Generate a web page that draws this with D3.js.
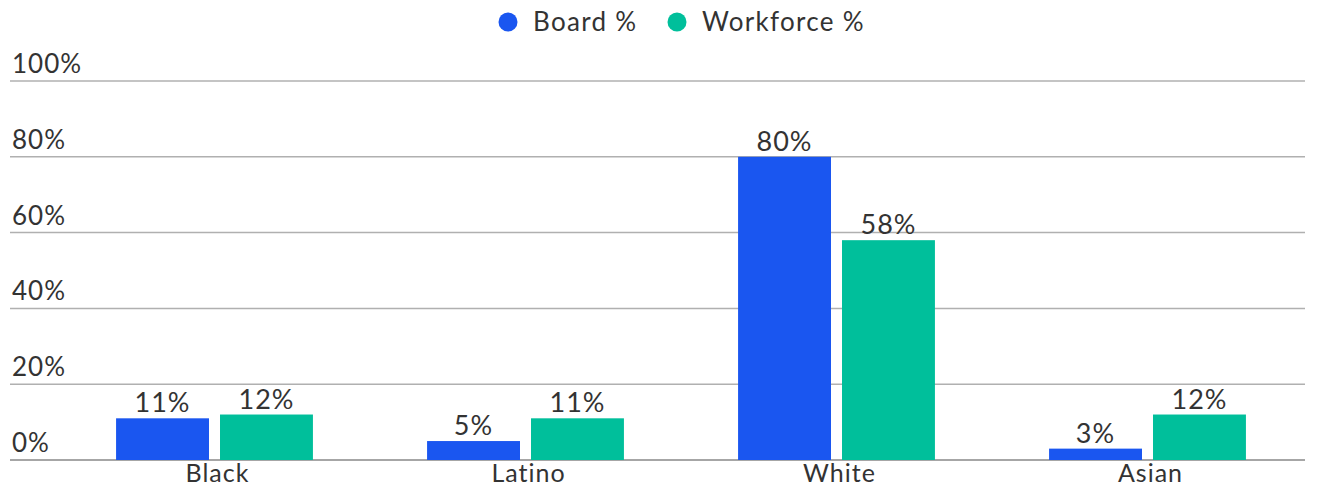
<!DOCTYPE html>
<html>
<head>
<meta charset="utf-8">
<script src="https://cdn.jsdelivr.net/npm/d3@7"></script>
<style>
  body { margin: 0; background: #fff; }
  svg text { font-family: Lato, "Open Sans", sans-serif; fill: #333; letter-spacing: 1px; }
</style>
</head>
<body>
<svg id="chart" width="1319" height="489"></svg>
<script>
const categories = ["Black", "Latino", "White", "Asian"];
const series = ["Board %", "Workforce %"];
const boardValues = [11, 5, 80, 3];
const workforceValues = [12, 11, 58, 12];
const yTicks = [0, 20, 40, 60, 80, 100];
const colors = ["#1a56f0", "#00bf9b"];

const width = 1319, height = 489;
const svg = d3.select("#chart");

const data = categories.map((c, i) => ({ cat: c, values: [boardValues[i], workforceValues[i]] }));

const x0 = d3.scaleBand()
    .domain(categories)
    .range([59, 1303])
    .paddingInner(0.367)
    .paddingOuter(0.1835);

const x1 = d3.scaleBand()
    .domain(series)
    .range([0, x0.bandwidth()])
    .paddingInner(0.106)
    .paddingOuter(0);

const y = d3.scaleLinear()
    .domain([0, 100])
    .range([460, 81]);

// gridlines + y labels
const grid = svg.append("g");
yTicks.forEach(t => {
  grid.append("line")
    .attr("x1", 10).attr("x2", 1305)
    .attr("y1", y(t)).attr("y2", y(t))
    .attr("stroke", t === 0 ? "#888" : "#b0b0b0")
    .attr("stroke-width", 1.5);
  grid.append("text")
    .attr("x", 12)
    .attr("y", y(t) - 8)
    .attr("font-size", "26px")
    .text(t + "%");
});

// bars
const groups = svg.selectAll("g.cat")
  .data(data)
  .enter()
  .append("g")
  .attr("class", "cat")
  .attr("transform", d => `translate(${x0(d.cat)},0)`);

groups.selectAll("rect")
  .data(d => d.values.map((v, i) => ({ s: series[i], v, i })))
  .enter()
  .append("rect")
  .attr("x", d => x1(d.s))
  .attr("y", d => y(d.v))
  .attr("width", x1.bandwidth())
  .attr("height", d => y(0) - y(d.v))
  .attr("fill", d => colors[d.i]);

groups.selectAll("text.val")
  .data(d => d.values.map((v, i) => ({ s: series[i], v, i })))
  .enter()
  .append("text")
  .attr("class", "val")
  .attr("x", d => x1(d.s) + x1.bandwidth() / 2)
  .attr("y", d => y(d.v) - 6)
  .attr("text-anchor", "middle")
  .attr("font-size", "27px")
  .text(d => d.v + "%");

// x labels
svg.append("g")
  .selectAll("text")
  .data(categories)
  .enter()
  .append("text")
  .attr("x", d => x0(d) + x0.bandwidth() / 2 + 3)
  .attr("y", 482)
  .attr("text-anchor", "middle")
  .attr("font-size", "25px")
  .text(d => d);

// legend
const legend = svg.append("g");
const legendX = [508, 677];
series.forEach((s, i) => {
  legend.append("circle")
    .attr("cx", legendX[i])
    .attr("cy", 22)
    .attr("r", 9.5)
    .attr("fill", colors[i]);
  legend.append("text")
    .attr("x", legendX[i] + 25)
    .attr("y", 31)
    .attr("font-size", "26px")
    .style("letter-spacing", "1.3px")
    .text(s);
});
</script>
</body>
</html>
